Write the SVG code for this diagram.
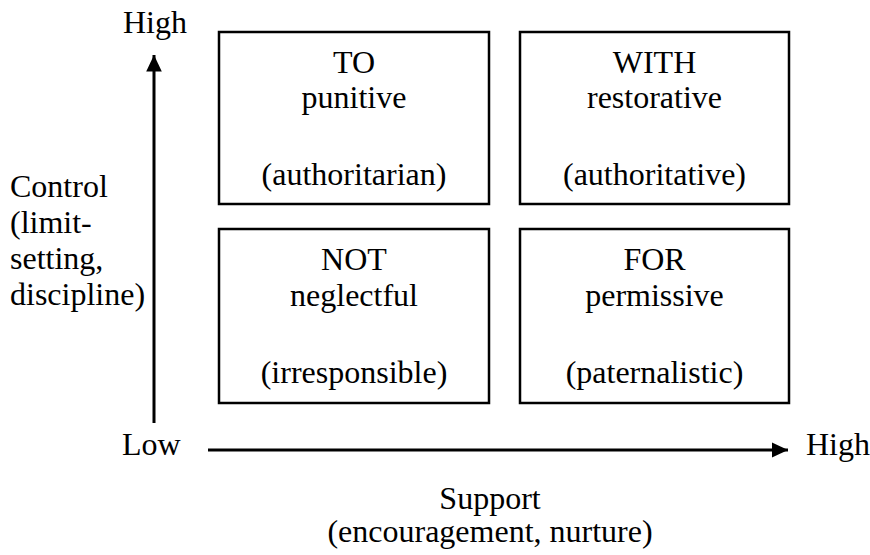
<svg xmlns="http://www.w3.org/2000/svg" width="870" height="555" viewBox="0 0 870 555">
<style>
.t{font-family:"Times New Roman","Liberation Serif",serif;font-size:32px;fill:#000}
.m{text-anchor:middle}
.box{fill:#fff;stroke:#000;stroke-width:2.5}
.ax{stroke:#000;stroke-width:3;fill:none}
</style>
<defs>
<marker id="ah" markerWidth="6" markerHeight="6" refX="5.5" refY="3" orient="auto" markerUnits="strokeWidth">
<path d="M0,0.4 L5.5,3 L0,5.6 Z" fill="#000"/>
</marker>
</defs>
<rect width="870" height="555" fill="#fff"/>
<g id="connectors">
<line class="ax" x1="154" y1="423" x2="154" y2="55" marker-end="url(#ah)"/>
<line class="ax" x1="208" y1="450" x2="788" y2="450" marker-end="url(#ah)"/>
</g>
<g id="to">
<rect class="box" x="219" y="32" width="270" height="172"/>
<text class="t m" x="354" y="73">TO</text>
<text class="t m" x="354" y="108">punitive</text>
<text class="t m" x="354" y="185">(authoritarian)</text>
</g>
<g id="with">
<rect class="box" x="520" y="32" width="269" height="172"/>
<text class="t m" x="654.5" y="73">WITH</text>
<text class="t m" x="654.5" y="108">restorative</text>
<text class="t m" x="654.5" y="185">(authoritative)</text>
</g>
<g id="not">
<rect class="box" x="219" y="229" width="270" height="174"/>
<text class="t m" x="354" y="270">NOT</text>
<text class="t m" x="354" y="306">neglectful</text>
<text class="t m" x="354" y="383">(irresponsible)</text>
</g>
<g id="for">
<rect class="box" x="520" y="229" width="269" height="174"/>
<text class="t m" x="654.5" y="270">FOR</text>
<text class="t m" x="654.5" y="306">permissive</text>
<text class="t m" x="654.5" y="383">(paternalistic)</text>
</g>
<g id="labels">
<text class="t m" x="155" y="33">High</text>
<text class="t" x="122" y="455">Low</text>
<text class="t" x="806" y="455">High</text>
<text class="t" x="10" y="197">Control</text>
<text class="t" x="10" y="233">(limit-</text>
<text class="t" x="10" y="269">setting,</text>
<text class="t" x="10" y="305">discipline)</text>
<text class="t m" x="490" y="509">Support</text>
<text class="t m" x="490" y="542">(encouragement, nurture)</text>
</g>
</svg>
